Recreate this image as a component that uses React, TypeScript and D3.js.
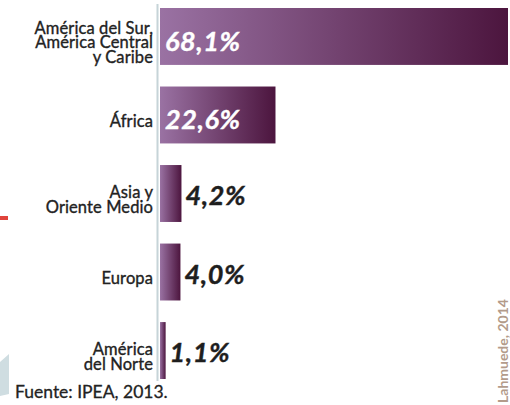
import React from "react";
import * as d3 from "d3";

const categories = [
  "América del Sur,|América Central|y Caribe",
  "África",
  "Asia y|Oriente Medio",
  "Europa",
  "América|del Norte",
];
const values = [68.1, 22.6, 4.2, 4.0, 1.1];
const valueLabels = ["68,1%", "22,6%", "4,2%", "4,0%", "1,1%"];
const insideLabel = [true, true, false, false, false];
const source = "Fuente: IPEA, 2013.";
const sideNote = "Lahmuede, 2014";

const W = 510;
const H = 405;

export default function App() {
  const x = d3.scaleLinear().domain([0, 68.1]).range([160, 508]);
  const y = d3
    .scaleBand<string>()
    .domain(categories)
    .range([8, 379])
    .paddingInner(0.275)
    .paddingOuter(0);
  const bw = y.bandwidth();
  const lh = 14.5;
  const font = "Lato, 'Noto Sans', sans-serif";

  return (
    <svg
      width={W}
      height={H}
      style={{ position: "absolute", left: 0, top: 0, background: "#fff" }}
    >
      <defs>
        <linearGradient id="barGrad" x1="0" x2="1" y1="0" y2="0">
          <stop offset="0%" stopColor="#9a72a3" />
          <stop offset="100%" stopColor="#4c153e" />
        </linearGradient>
      </defs>
      {/* decorative fragments */}
      <rect x={0} y={216} width={8} height={4} fill="#e0443c" />
      <path d="M0,362 L9,354 L9,394 L0,396 Z" fill="#cfdde1" />
      <text
        transform="translate(508,403) rotate(-90)"
        fontFamily={font}
        fontSize={14}
        fontWeight="bold"
        fill="#9a7a64"
        opacity={0.75}
      >
        {sideNote}
      </text>
      <line x1={157.5} x2={157.5} y1={4} y2={381} stroke="#c6d4d8" strokeWidth={2} />
      {categories.map((c, i) => {
        const y0 = y(c)!;
        const cy = y0 + bw / 2;
        const lines = c.split("|");
        const n = lines.length;
        const x1 = x(values[i]);
        return (
          <g key={c}>
            <rect x={x(0)} y={y0} width={x1 - x(0)} height={bw} fill="url(#barGrad)" />
            <text
              textAnchor="end"
              fontFamily={font}
              fontSize={16.5}
              fill="#222"
              stroke="#222"
              strokeWidth={0.35}
              letterSpacing={0.1}
            >
              {lines.map((l, j) => (
                <tspan key={j} x={153} y={cy + 12 + (j - (n - 1) / 2) * lh}>
                  {l}
                </tspan>
              ))}
            </text>
            <text
              x={insideLabel[i] ? x(0) + 5 : x1 + 4}
              y={cy + (insideLabel[i] ? 14.5 : 11.5)}
              fontFamily={font}
              fontSize={27}
              fontWeight="bold"
              fontStyle="italic"
              letterSpacing={0.6}
              fill={insideLabel[i] ? "#ffffff" : "#1e1e1e"}
              stroke={insideLabel[i] ? "#ffffff" : "#1e1e1e"}
              strokeWidth={0.4}
            >
              {valueLabels[i]}
            </text>
          </g>
        );
      })}
      <text
        x={15}
        y={398}
        fontFamily={font}
        fontSize={17.5}
        fill="#222"
        stroke="#222"
        strokeWidth={0.3}
      >
        {source}
      </text>
    </svg>
  );
}
